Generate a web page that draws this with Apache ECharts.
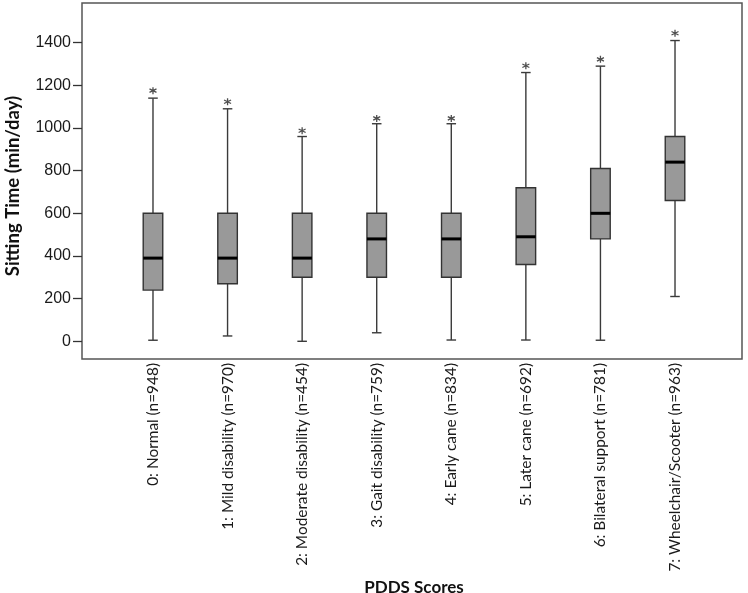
<!DOCTYPE html>
<html>
<head>
<meta charset="utf-8">
<script src="https://cdn.jsdelivr.net/npm/echarts@6/dist/echarts.min.js"></script>
<style>
html,body{margin:0;padding:0;background:#fff;}
#chart{width:748px;height:593px;}
</style>
</head>
<body>
<div id="chart"></div>
<script>
// ---- data ----
var categories = ['0: Normal (n=948)', '1: Mild disability (n=970)', '2: Moderate disability (n=454)', '3: Gait disability (n=759)', '4: Early cane (n=834)', '5: Later cane (n=692)', '6: Bilateral support (n=781)', '7: Wheelchair/Scooter (n=963)'];
var whiskerLow = [5, 25, 0, 40, 6, 6, 5, 210];
var quartile1 = [240, 270, 300, 300, 300, 360, 480, 660];
var medians = [390, 390, 390, 480, 480, 490, 600, 840];
var quartile3 = [600, 600, 600, 600, 600, 720, 810, 960];
var whiskerHigh = [1140, 1090, 960, 1020, 1020, 1260, 1290, 1410];
var extremes = [1175, 1123, 987, 1045, 1045, 1292, 1322, 1444];
var yTicks = [0, 200, 400, 600, 800, 1000, 1200, 1400];

var boxData = categories.map(function (c, i) {
  return [i, whiskerLow[i], quartile1[i], medians[i], quartile3[i], whiskerHigh[i]];
});
var extremeData = categories.map(function (c, i) { return [i, extremes[i]]; });

var Y_MIN = -83, Y_MAX = 1586;

function renderBox(params, api) {
  var i = api.value(0);
  var band = api.size([1, 0])[0];
  var hw = band * 0.131;
  var cw = band * 0.064;
  var lo = api.coord([i, api.value(1)]);
  var q1 = api.coord([i, api.value(2)]);
  var md = api.coord([i, api.value(3)]);
  var q3 = api.coord([i, api.value(4)]);
  var hi = api.coord([i, api.value(5)]);
  var x = lo[0];
  var lineStyle = { stroke: '#3a3a3a', lineWidth: 1.4 };
  return {
    type: 'group',
    children: [
      { type: 'line', shape: { x1: x, y1: hi[1], x2: x, y2: q3[1] }, style: lineStyle },
      { type: 'line', shape: { x1: x, y1: q1[1], x2: x, y2: lo[1] }, style: lineStyle },
      { type: 'line', shape: { x1: x - cw, y1: hi[1], x2: x + cw, y2: hi[1] }, style: lineStyle },
      { type: 'line', shape: { x1: x - cw, y1: lo[1], x2: x + cw, y2: lo[1] }, style: lineStyle },
      { type: 'rect', shape: { x: x - hw, y: q3[1], width: hw * 2, height: q1[1] - q3[1] },
        style: { fill: '#999999', stroke: '#333333', lineWidth: 1.4 } },
      { type: 'line', shape: { x1: x - hw, y1: md[1], x2: x + hw, y2: md[1] },
        style: { stroke: '#000000', lineWidth: 3 } }
    ]
  };
}

var asterisk = 'path://M5,0 L5,10 M0.67,2.5 L9.33,7.5 M0.67,7.5 L9.33,2.5';

var chart = echarts.init(document.getElementById('chart'), null, { renderer: 'canvas' });
chart.setOption({
  backgroundColor: '#ffffff',
  animation: false,
  grid: [
    { left: 82, right: 6, top: 3, bottom: 234, show: true, borderColor: '#555555', borderWidth: 1.5, backgroundColor: 'transparent', outerBoundsMode: 'none', containLabel: false },
    { left: 115.7, right: 35.7, top: 3, bottom: 234, outerBoundsMode: 'none', containLabel: false }
  ],
  xAxis: [
    { gridIndex: 0, type: 'value', show: false, min: 0, max: 1 },
    {
      gridIndex: 1, type: 'category', data: categories,
      axisLine: { show: false }, axisTick: { show: false },
      axisLabel: { rotate: 90, margin: 4, fontFamily: 'Lato', fontSize: 15.4, color: '#1a1a1a', interval: 0 },
      name: 'PDDS Scores', nameLocation: 'middle', nameGap: 213,
      nameTextStyle: { fontFamily: 'Lato', fontWeight: 'bold', fontSize: 17, color: '#111111' }
    }
  ],
  yAxis: [
    {
      gridIndex: 0, type: 'value', min: Y_MIN, max: Y_MAX,
      axisLine: { show: false }, splitLine: { show: false },
      axisTick: { show: true, inside: false, length: 9, customValues: yTicks, lineStyle: { color: '#333333', width: 1.3 } },
      axisLabel: { margin: 11, customValues: yTicks, fontFamily: 'Liberation Sans', fontSize: 16, color: '#1a1a1a',
        formatter: function (v) { return String(v); } },
      name: 'Sitting Time (min/day)', nameLocation: 'middle', nameGap: 59,
      nameTextStyle: { fontFamily: 'Lato', fontWeight: 'bold', fontSize: 18.5, color: '#111111', padding: [0, 10, 0, 0] }
    },
    { gridIndex: 1, type: 'value', min: Y_MIN, max: Y_MAX, show: false, splitLine: { show: false } }
  ],
  series: [
    { type: 'custom', xAxisIndex: 1, yAxisIndex: 1, renderItem: renderBox, data: boxData, silent: true },
    { type: 'scatter', xAxisIndex: 1, yAxisIndex: 1, data: extremeData, symbol: asterisk, symbolSize: 7,
      itemStyle: { color: 'none', borderColor: '#222222', borderWidth: 1.3 }, silent: true }
  ]
});
</script>
</body>
</html>
